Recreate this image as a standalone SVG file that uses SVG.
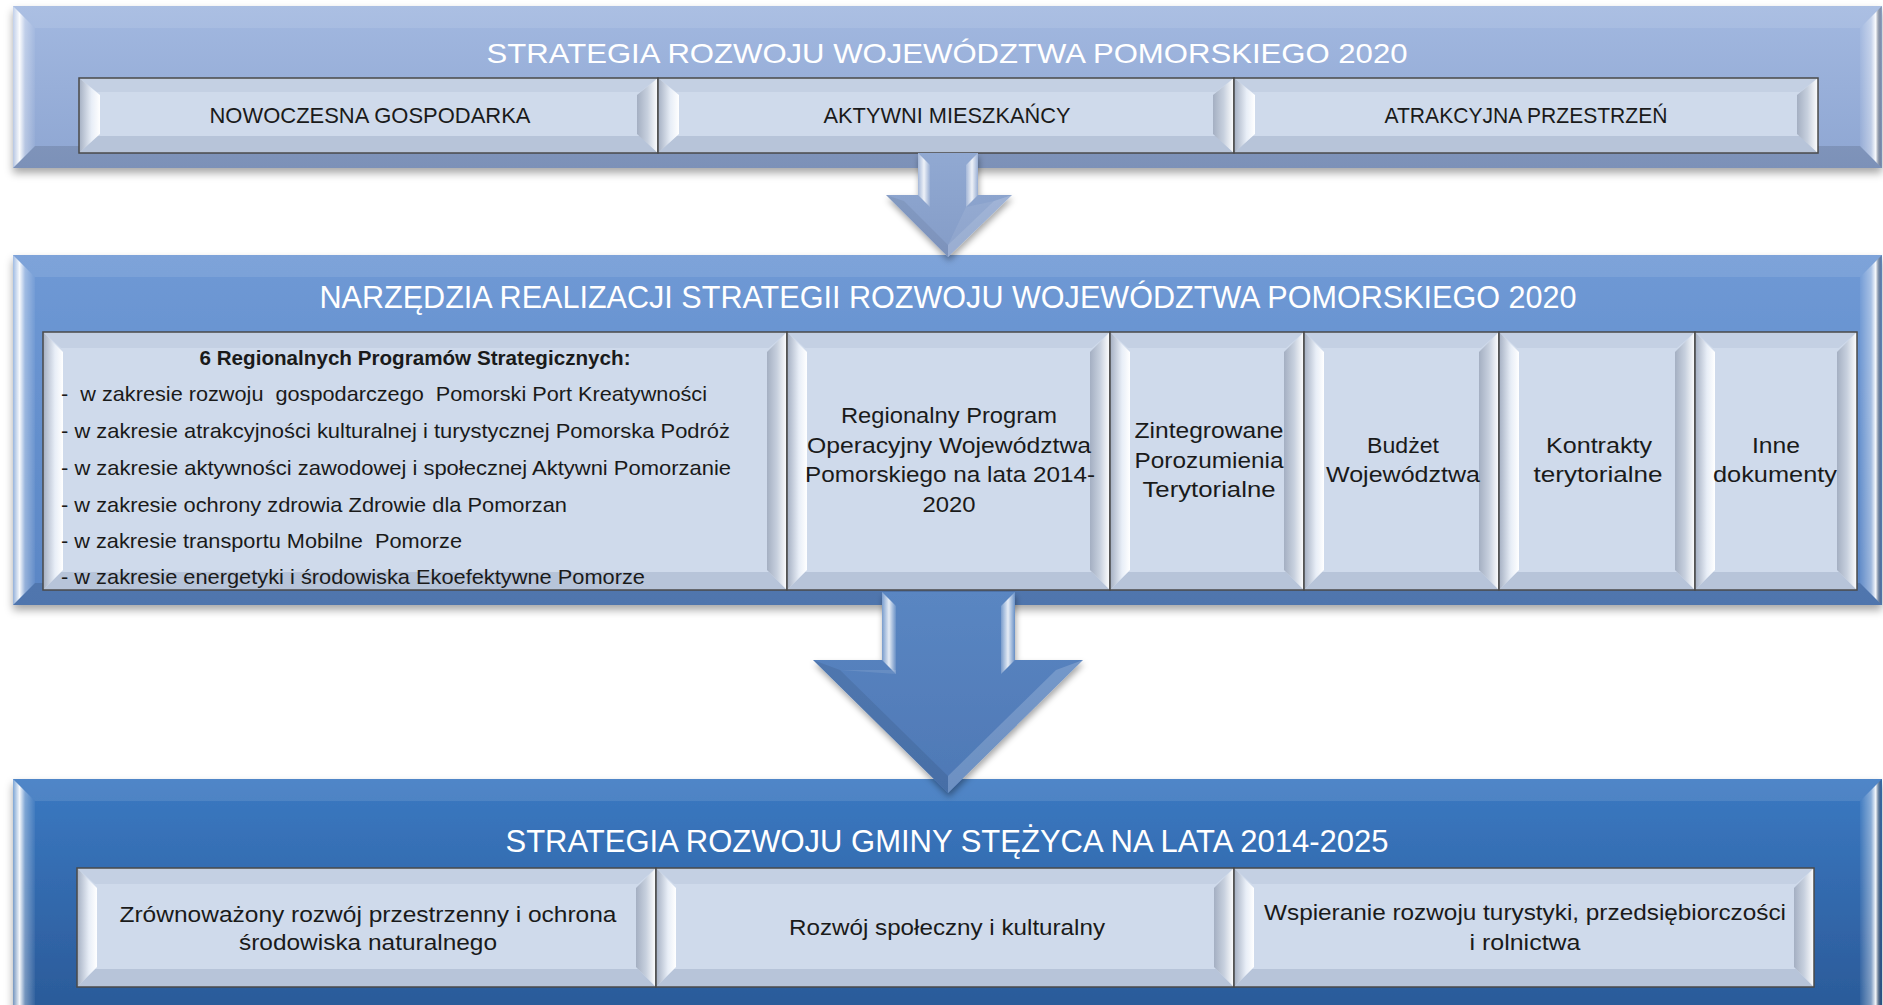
<svg xmlns="http://www.w3.org/2000/svg" width="1883" height="1005" viewBox="0 0 1883 1005">
<defs>
<filter id="sh" x="-5%" y="-10%" width="110%" height="130%">
<feDropShadow dx="0" dy="5" stdDeviation="4" flood-color="#000" flood-opacity="0.35"/>
</filter>
<filter id="sha" x="-20%" y="-20%" width="140%" height="150%">
<feDropShadow dx="1" dy="4" stdDeviation="3" flood-color="#000" flood-opacity="0.35"/>
</filter>
<linearGradient id="gTop" x1="0" y1="0" x2="0" y2="1"><stop offset="0" stop-color="#a2b8e0"/><stop offset="1" stop-color="#8ea6d2"/></linearGradient>
<linearGradient id="gMid" x1="0" y1="0" x2="0" y2="1"><stop offset="0" stop-color="#6f99d5"/><stop offset="1" stop-color="#5a86c5"/></linearGradient>
<linearGradient id="gBot" x1="0" y1="0" x2="0" y2="1"><stop offset="0" stop-color="#3b79c2"/><stop offset="1" stop-color="#2a5997"/></linearGradient>
<linearGradient id="panL" x1="0" y1="0" x2="1" y2="0"><stop offset="0" stop-color="#fff" stop-opacity="0.35"/><stop offset="0.3" stop-color="#fff" stop-opacity="0.95"/><stop offset="0.55" stop-color="#fff" stop-opacity="0.35"/><stop offset="1" stop-color="#fff" stop-opacity="0.05"/></linearGradient>
<linearGradient id="panR" x1="0" y1="0" x2="1" y2="0"><stop offset="0" stop-color="#fff" stop-opacity="0.05"/><stop offset="0.5" stop-color="#fff" stop-opacity="0.4"/><stop offset="0.72" stop-color="#fff" stop-opacity="0.95"/><stop offset="1" stop-color="#000" stop-opacity="0.1"/></linearGradient>
<linearGradient id="cellB" x1="0" y1="0" x2="1" y2="0"><stop offset="0" stop-color="#a4afc2"/><stop offset="0.6" stop-color="#e8eef7"/><stop offset="1" stop-color="#ffffff"/></linearGradient>
<linearGradient id="cellBR" x1="0" y1="0" x2="1" y2="0"><stop offset="0" stop-color="#a4afc2"/><stop offset="0.5" stop-color="#c7d0de"/><stop offset="1" stop-color="#ffffff"/></linearGradient>
<linearGradient id="arrS" x1="0" y1="0" x2="1" y2="0"><stop offset="0" stop-color="#fff" stop-opacity="0.2"/><stop offset="0.5" stop-color="#fff" stop-opacity="0.85"/><stop offset="1" stop-color="#fff" stop-opacity="0.1"/></linearGradient>
<linearGradient id="a1" x1="0" y1="0" x2="0" y2="1"><stop offset="0" stop-color="#91a9d2"/><stop offset="1" stop-color="#849cc7"/></linearGradient>
<linearGradient id="a2" x1="0" y1="0" x2="0" y2="1"><stop offset="0" stop-color="#5a86c2"/><stop offset="1" stop-color="#4e78b5"/></linearGradient>
</defs>
<style>
.ttl{font-family:"Liberation Sans",Arial,sans-serif;fill:#ffffff;text-anchor:middle}
.txt{font-family:"Liberation Sans",Arial,sans-serif;fill:#1a1a1a;font-size:22px;text-anchor:middle}
.lft{font-family:"Liberation Sans",Arial,sans-serif;fill:#1a1a1a;font-size:21px}
.face{fill:#cfdaeb}
.bt{fill:#c4d0e3}
.bb{fill:#b7c4d9}
.bl{fill:url(#cellB)}
.br{fill:url(#cellBR)}
.edge{fill:none;stroke:#4a4a4a;stroke-width:1.5}
.pl{fill:url(#panL)}
.pr{fill:url(#panR)}
.ptop{fill:#fff;fill-opacity:0.1}
.pbot{fill:#000;fill-opacity:0.12}
</style>
<rect width="1883" height="1005" fill="#ffffff"/>

<!-- TOP PANEL -->
<g id="panel-strategia-woj">
<rect x="13" y="6" width="1869" height="162" fill="url(#gTop)" filter="url(#sh)"/>
<polygon class="ptop" points="13,6 1882,6 1860,28 35,28"/>
<polygon class="pbot" points="13,168 1882,168 1860,146 35,146"/>
<polygon class="pl" points="13,6 35,28 35,146 13,168"/>
<polygon class="pr" points="1882,6 1860,28 1860,146 1882,168"/>
<text class="ttl" x="947" y="63" font-size="28" textLength="921" lengthAdjust="spacingAndGlyphs">STRATEGIA ROZWOJU WOJEWÓDZTWA POMORSKIEGO 2020</text>
</g>
<g id="cell-nowoczesna">
<rect class="face" x="79" y="78" width="579" height="75"/>
<polygon class="bt" points="79,78 658,78 640,92 97,92"/>
<polygon class="bb" points="79,153 658,153 640,136 97,136"/>
<polygon class="bl" points="79,78 100,95 100,134 79,153"/>
<polygon class="br" points="658,78 637,95 637,134 658,153"/>
<rect class="edge" x="79" y="78" width="579" height="75"/>
<text class="txt" x="370" y="123" textLength="321" lengthAdjust="spacingAndGlyphs">NOWOCZESNA GOSPODARKA</text>
</g>
<g id="cell-aktywni">
<rect class="face" x="658" y="78" width="576" height="75"/>
<polygon class="bt" points="658,78 1234,78 1216,92 676,92"/>
<polygon class="bb" points="658,153 1234,153 1216,136 676,136"/>
<polygon class="bl" points="658,78 679,95 679,134 658,153"/>
<polygon class="br" points="1234,78 1213,95 1213,134 1234,153"/>
<rect class="edge" x="658" y="78" width="576" height="75"/>
<text class="txt" x="947" y="123" textLength="247" lengthAdjust="spacingAndGlyphs">AKTYWNI MIESZKAŃCY</text>
</g>
<g id="cell-atrakcyjna">
<rect class="face" x="1234" y="78" width="584" height="75"/>
<polygon class="bt" points="1234,78 1818,78 1800,92 1252,92"/>
<polygon class="bb" points="1234,153 1818,153 1800,136 1252,136"/>
<polygon class="bl" points="1234,78 1255,95 1255,134 1234,153"/>
<polygon class="br" points="1818,78 1797,95 1797,134 1818,153"/>
<rect class="edge" x="1234" y="78" width="584" height="75"/>
<text class="txt" x="1526" y="123" textLength="283" lengthAdjust="spacingAndGlyphs">ATRAKCYJNA PRZESTRZEŃ</text>
</g>

<!-- MIDDLE PANEL -->
<g id="panel-narzedzia">
<rect x="13" y="255" width="1869" height="350" fill="url(#gMid)" filter="url(#sh)"/>
<polygon class="ptop" points="13,255 1882,255 1860,277 35,277"/>
<polygon class="pbot" points="13,605 1882,605 1860,583 35,583"/>
<polygon class="pl" points="13,255 35,277 35,583 13,605"/>
<polygon class="pr" points="1882,255 1860,277 1860,583 1882,605"/>
<text class="ttl" x="948" y="308" font-size="31" textLength="1257" lengthAdjust="spacingAndGlyphs">NARZĘDZIA REALIZACJI STRATEGII ROZWOJU WOJEWÓDZTWA POMORSKIEGO 2020</text>
</g>
<g id="cell-rps">
<rect class="face" x="43" y="332" width="744" height="258"/>
<polygon class="bt" points="43,332 787,332 769,348 61,348"/>
<polygon class="bb" points="43,590 787,590 769,572 61,572"/>
<polygon class="bl" points="43,332 63,352 63,570 43,590"/>
<polygon class="br" points="787,332 767,352 767,570 787,590"/>
<rect class="edge" x="43" y="332" width="744" height="258"/>
<text class="lft" x="415" y="365" font-weight="bold" text-anchor="middle" textLength="431" lengthAdjust="spacingAndGlyphs">6 Regionalnych Programów Strategicznych:</text>
<text class="lft" x="61" y="401" xml:space="preserve" textLength="646" lengthAdjust="spacingAndGlyphs">-  w zakresie rozwoju  gospodarczego  Pomorski Port Kreatywności</text>
<text class="lft" x="61" y="438" textLength="669" lengthAdjust="spacingAndGlyphs">- w zakresie atrakcyjności kulturalnej i turystycznej Pomorska Podróż</text>
<text class="lft" x="61" y="475" textLength="670" lengthAdjust="spacingAndGlyphs">- w zakresie aktywności zawodowej i społecznej Aktywni Pomorzanie</text>
<text class="lft" x="61" y="512" textLength="506" lengthAdjust="spacingAndGlyphs">- w zakresie ochrony zdrowia Zdrowie dla Pomorzan</text>
<text class="lft" x="61" y="548" xml:space="preserve" textLength="401" lengthAdjust="spacingAndGlyphs">- w zakresie transportu Mobilne  Pomorze</text>
<text class="lft" x="61" y="584" textLength="584" lengthAdjust="spacingAndGlyphs">- w zakresie energetyki i środowiska Ekoefektywne Pomorze</text>
</g>
<g id="cell-rpo">
<rect class="face" x="787" y="332" width="323" height="258"/>
<polygon class="bt" points="787,332 1110,332 1092,348 805,348"/>
<polygon class="bb" points="787,590 1110,590 1092,572 805,572"/>
<polygon class="bl" points="787,332 807,352 807,570 787,590"/>
<polygon class="br" points="1110,332 1090,352 1090,570 1110,590"/>
<rect class="edge" x="787" y="332" width="323" height="258"/>
<text class="txt" x="949" y="423" textLength="216" lengthAdjust="spacingAndGlyphs">Regionalny Program</text>
<text class="txt" x="949" y="453" textLength="284" lengthAdjust="spacingAndGlyphs">Operacyjny Województwa</text>
<text class="txt" x="950" y="482" textLength="290" lengthAdjust="spacingAndGlyphs">Pomorskiego na lata 2014-</text>
<text class="txt" x="949" y="512" textLength="53" lengthAdjust="spacingAndGlyphs">2020</text>
</g>
<g id="cell-zpt">
<rect class="face" x="1110" y="332" width="194" height="258"/>
<polygon class="bt" points="1110,332 1304,332 1286,348 1128,348"/>
<polygon class="bb" points="1110,590 1304,590 1286,572 1128,572"/>
<polygon class="bl" points="1110,332 1130,352 1130,570 1110,590"/>
<polygon class="br" points="1304,332 1284,352 1284,570 1304,590"/>
<rect class="edge" x="1110" y="332" width="194" height="258"/>
<text class="txt" x="1209" y="438" textLength="149" lengthAdjust="spacingAndGlyphs">Zintegrowane</text>
<text class="txt" x="1209" y="468" textLength="149" lengthAdjust="spacingAndGlyphs">Porozumienia</text>
<text class="txt" x="1209" y="497" textLength="133" lengthAdjust="spacingAndGlyphs">Terytorialne</text>
</g>
<g id="cell-budzet">
<rect class="face" x="1304" y="332" width="195" height="258"/>
<polygon class="bt" points="1304,332 1499,332 1481,348 1322,348"/>
<polygon class="bb" points="1304,590 1499,590 1481,572 1322,572"/>
<polygon class="bl" points="1304,332 1324,352 1324,570 1304,590"/>
<polygon class="br" points="1499,332 1479,352 1479,570 1499,590"/>
<rect class="edge" x="1304" y="332" width="195" height="258"/>
<text class="txt" x="1403" y="453" textLength="72" lengthAdjust="spacingAndGlyphs">Budżet</text>
<text class="txt" x="1403" y="482" textLength="154" lengthAdjust="spacingAndGlyphs">Województwa</text>
</g>
<g id="cell-kontrakty">
<rect class="face" x="1499" y="332" width="196" height="258"/>
<polygon class="bt" points="1499,332 1695,332 1677,348 1517,348"/>
<polygon class="bb" points="1499,590 1695,590 1677,572 1517,572"/>
<polygon class="bl" points="1499,332 1519,352 1519,570 1499,590"/>
<polygon class="br" points="1695,332 1675,352 1675,570 1695,590"/>
<rect class="edge" x="1499" y="332" width="196" height="258"/>
<text class="txt" x="1599" y="453" textLength="106" lengthAdjust="spacingAndGlyphs">Kontrakty</text>
<text class="txt" x="1598" y="482" textLength="129" lengthAdjust="spacingAndGlyphs">terytorialne</text>
</g>
<g id="cell-inne">
<rect class="face" x="1695" y="332" width="162" height="258"/>
<polygon class="bt" points="1695,332 1857,332 1839,348 1713,348"/>
<polygon class="bb" points="1695,590 1857,590 1839,572 1713,572"/>
<polygon class="bl" points="1695,332 1715,352 1715,570 1695,590"/>
<polygon class="br" points="1857,332 1837,352 1837,570 1857,590"/>
<rect class="edge" x="1695" y="332" width="162" height="258"/>
<text class="txt" x="1776" y="453" textLength="48" lengthAdjust="spacingAndGlyphs">Inne</text>
<text class="txt" x="1775" y="482" textLength="124" lengthAdjust="spacingAndGlyphs">dokumenty</text>
</g>

<!-- BOTTOM PANEL -->
<g id="panel-gmina">
<rect x="13" y="779" width="1869" height="240" fill="url(#gBot)" filter="url(#sh)"/>
<polygon class="ptop" points="13,779 1882,779 1860,801 35,801"/>
<polygon class="pl" points="13,779 35,801 35,1005 13,1005"/>
<polygon class="pr" points="1882,779 1860,801 1860,1005 1882,1005"/>
<text class="ttl" x="947" y="852" font-size="31" textLength="883" lengthAdjust="spacingAndGlyphs">STRATEGIA ROZWOJU GMINY STĘŻYCA NA LATA 2014-2025</text>
</g>
<g id="cell-zrownowazony">
<rect class="face" x="77" y="868" width="579" height="119"/>
<polygon class="bt" points="77,868 656,868 638,884 95,884"/>
<polygon class="bb" points="77,987 656,987 638,969 95,969"/>
<polygon class="bl" points="77,868 97,888 97,967 77,987"/>
<polygon class="br" points="656,868 636,888 636,967 656,987"/>
<rect class="edge" x="77" y="868" width="579" height="119"/>
<text class="txt" x="368" y="922" textLength="497" lengthAdjust="spacingAndGlyphs">Zrównoważony rozwój przestrzenny i ochrona</text>
<text class="txt" x="368" y="950" textLength="258" lengthAdjust="spacingAndGlyphs">środowiska naturalnego</text>
</g>
<g id="cell-rozwoj-spoleczny">
<rect class="face" x="656" y="868" width="578" height="119"/>
<polygon class="bt" points="656,868 1234,868 1216,884 674,884"/>
<polygon class="bb" points="656,987 1234,987 1216,969 674,969"/>
<polygon class="bl" points="656,868 676,888 676,967 656,987"/>
<polygon class="br" points="1234,868 1214,888 1214,967 1234,987"/>
<rect class="edge" x="656" y="868" width="578" height="119"/>
<text class="txt" x="947" y="935" textLength="316" lengthAdjust="spacingAndGlyphs">Rozwój społeczny i kulturalny</text>
</g>
<g id="cell-wspieranie">
<rect class="face" x="1234" y="868" width="580" height="119"/>
<polygon class="bt" points="1234,868 1814,868 1796,884 1252,884"/>
<polygon class="bb" points="1234,987 1814,987 1796,969 1252,969"/>
<polygon class="bl" points="1234,868 1254,888 1254,967 1234,987"/>
<polygon class="br" points="1814,868 1794,888 1794,967 1814,987"/>
<rect class="edge" x="1234" y="868" width="580" height="119"/>
<text class="txt" x="1525" y="920" textLength="522" lengthAdjust="spacingAndGlyphs">Wspieranie rozwoju turystyki, przedsiębiorczości</text>
<text class="txt" x="1525" y="950" textLength="111" lengthAdjust="spacingAndGlyphs">i rolnictwa</text>
</g>

<!-- CONNECTORS -->
<g id="connectors">
<g id="arrow-1">
<polygon points="918,153 978,153 978,195 1012,195 948,257 886,195 918,195" fill="url(#a1)" filter="url(#sha)"/>
<polygon points="918,153 930,165 930,207 918,195" fill="url(#arrS)"/>
<polygon points="978,153 966,165 966,207 978,195" fill="url(#arrS)"/>
<polygon points="886,195 904,201 948,245 948,257" fill="#000" fill-opacity="0.06"/>
<polygon points="1012,195 994,201 948,245 948,257" fill="#fff" fill-opacity="0.18"/>
<polygon points="966,207 994,201 948,245" fill="#fff" fill-opacity="0.08"/>
</g>
<g id="arrow-2">
<polygon points="882,592 1015,592 1015,660 1083,660 948,793 813,660 882,660" fill="url(#a2)" filter="url(#sha)"/>
<polygon points="882,592 896,606 896,674 882,660" fill="url(#arrS)"/>
<polygon points="1015,592 1001,606 1001,674 1015,660" fill="url(#arrS)"/>
<polygon points="813,660 840,670 948,776 948,793" fill="#000" fill-opacity="0.08"/>
<polygon points="1083,660 1056,670 948,776 948,793" fill="#fff" fill-opacity="0.18"/>
<polygon points="840,670 896,674 896,670" fill="#fff" fill-opacity="0.1"/>
</g>
</g>
</svg>
